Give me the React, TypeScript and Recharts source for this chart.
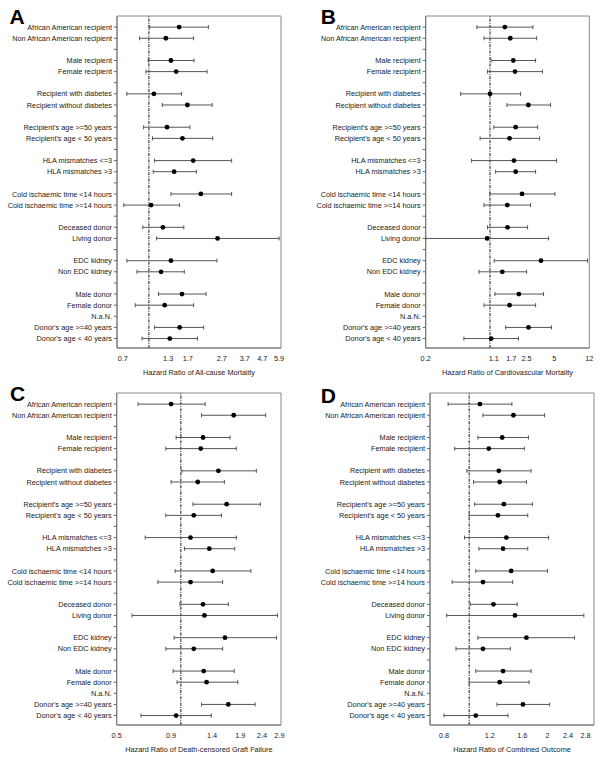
import { ScatterChart, Scatter, XAxis, YAxis, ErrorBar, ReferenceLine, ReferenceArea } from "recharts";

// row labels, "" = spacer row
const rowLabels = [
  "African American recipient",
  "Non African American recipient",
  "",
  "Male recipient",
  "Female recipient",
  "",
  "Recipient with diabetes",
  "Recipient without diabetes",
  "",
  "Recipient's age >=50 years",
  "Recipient's age < 50 years",
  "",
  "HLA mismatches <=3",
  "HLA mismatches >3",
  "",
  "Cold ischaemic time <14 hours",
  "Cold ischaemic time >=14 hours",
  "",
  "Deceased donor",
  "Living donor",
  "",
  "EDC kidney",
  "Non EDC kidney",
  "",
  "Male donor",
  "Female donor",
  "N.a.N.",
  "Donor's age >=40 years",
  "Donor's age < 40 years",
];

// one value per non-empty row (N.a.N. has no estimate)
const aPoint = [1.51, 1.26, 1.35, 1.45, 1.07, 1.69, 1.28, 1.58, 1.83, 1.41, 2.03, 1.03, 1.21, 2.55, 1.35, 1.18, 1.57, 1.24, null, 1.52, 1.33];
const aLow = [1.01, 0.88, 0.99, 0.96, 0.74, 1.2, 0.93, 1.05, 1.08, 1.06, 1.35, 0.71, 0.92, 1.11, 0.74, 0.85, 1.14, 0.83, null, 1.08, 0.91];
const aHigh = [2.25, 1.84, 1.85, 2.21, 1.56, 2.37, 1.75, 2.39, 3.09, 1.91, 3.09, 1.52, 1.61, 5.9, 2.53, 1.62, 2.18, 1.84, null, 2.11, 1.94];

const bPoint = [1.45, 1.66, 1.79, 1.87, 1.0, 2.61, 1.9, 1.63, 1.82, 1.9, 2.23, 1.54, 1.55, 0.93, 3.58, 1.36, 2.06, 1.63, null, 2.62, 1.03];
const bLow = [0.72, 0.86, 1.03, 0.94, 0.48, 1.53, 1.1, 0.78, 0.63, 1.15, 0.99, 0.86, 0.94, 0.2, 1.11, 0.76, 1.13, 0.86, null, 1.48, 0.52];
const bHigh = [2.93, 3.21, 3.13, 3.72, 2.15, 4.55, 3.29, 3.46, 5.29, 3.13, 5.08, 2.76, 2.56, 4.33, 11.47, 2.5, 3.82, 3.13, null, 4.66, 2.04];

const cPoint = [0.9, 1.77, 1.27, 1.24, 1.5, 1.2, 1.64, 1.15, 1.11, 1.36, 1.41, 1.11, 1.27, 1.29, 1.61, 1.15, 1.28, 1.32, null, 1.67, 0.95];
const cLow = [0.63, 1.25, 0.95, 0.85, 1.01, 0.9, 1.14, 0.85, 0.68, 1.04, 0.94, 0.78, 0.99, 0.59, 0.93, 0.85, 0.92, 0.96, null, 1.25, 0.65];
const cHigh = [1.3, 2.5, 1.7, 1.82, 2.26, 1.6, 2.36, 1.55, 1.82, 1.79, 2.13, 1.57, 1.67, 2.84, 2.81, 1.57, 1.78, 1.85, null, 2.23, 1.39];

const dPoint = [1.1, 1.48, 1.34, 1.19, 1.3, 1.31, 1.36, 1.29, 1.39, 1.35, 1.45, 1.13, 1.24, 1.5, 1.66, 1.13, 1.35, 1.31, null, 1.61, 1.06];
const dLow = [0.83, 1.13, 1.08, 0.88, 0.98, 1.04, 1.05, 1.0, 0.96, 1.09, 1.06, 0.86, 1.01, 0.82, 1.08, 0.89, 1.06, 1.0, null, 1.28, 0.8];
const dHigh = [1.46, 1.95, 1.69, 1.63, 1.73, 1.66, 1.75, 1.68, 2.02, 1.68, 2.0, 1.47, 1.53, 2.76, 2.54, 1.44, 1.73, 1.7, null, 2.04, 1.41];

const aTicks = [0.7, 1.3, 1.7, 2.7, 3.7, 4.7, 5.9];
const bTicks = [0.2, 1.1, 1.7, 2.5, 5, 12];
const cTicks = [0.5, 0.9, 1.4, 1.9, 2.4, 2.9];
const dTicks = [0.8, 1.2, 1.6, 2, 2.4, 2.8];

const rowTicks = rowLabels.map((_, i) => i);
const yDomain: [number, number] = [-1, 28.85];
const FONT = "'Liberation Sans', Arial, sans-serif";

function buildRows(pt: (number | null)[], lo: (number | null)[], hi: (number | null)[]) {
  const out: { row: number; pt: number; err: number[] }[] = [];
  let k = 0;
  rowLabels.forEach((lab, i) => {
    if (!lab) return;
    const p = pt[k], l = lo[k], h = hi[k];
    if (p != null && l != null && h != null) {
      out.push({ row: i, pt: p, err: [p - l, h - p] });
    }
    k++;
  });
  return out;
}

const Dot = (props: any) => <circle cx={props.cx} cy={props.cy} r={2.4} fill="#000" />;

// plain text so long labels stay on one line
const RowTick = (props: any) => (
  <text
    x={props.x}
    y={props.y}
    dy="0.35em"
    textAnchor="end"
    fontSize={7.3}
    fill="#222"
    fontFamily={FONT}
  >
    {rowLabels[props.payload.value] ?? ""}
  </text>
);

type PanelProps = {
  letter: string;
  left: number;
  top: number;
  yAxisWidth: number;
  rightMargin: number;
  letterTop: number;
  letterLeft: number;
  domain: [number, number];
  ticks: number[];
  title: string;
  pt: (number | null)[];
  lo: (number | null)[];
  hi: (number | null)[];
};

function Panel(p: PanelProps) {
  const data = buildRows(p.pt, p.lo, p.hi);
  return (
    <div style={{ position: "absolute", left: p.left, top: p.top, width: 302, height: 378 }}>
      <ScatterChart
        width={302}
        height={378}
        margin={{ top: 16, right: p.rightMargin, bottom: 0, left: 0 }}
      >
        <XAxis
          type="number"
          dataKey="pt"
          scale="log"
          domain={p.domain}
          allowDataOverflow
          ticks={p.ticks}
          interval={0}
          tickLine={false}
          axisLine={{ stroke: "#777" }}
          tick={{ fontSize: 7.3, fill: "#222", fontFamily: FONT }}
          tickFormatter={(v: number) => String(v)}
          height={30}
          label={{
            value: p.title,
            position: "insideBottom",
            offset: 3.5,
            fontSize: 7.3,
            fill: "#222",
            fontFamily: FONT,
          }}
        />
        <YAxis
          type="number"
          dataKey="row"
          domain={yDomain}
          allowDataOverflow
          reversed
          ticks={rowTicks}
          interval={0}
          width={p.yAxisWidth}
          tickSize={3}
          tickMargin={2}
          tickLine={{ stroke: "#666" }}
          axisLine={{ stroke: "#777" }}
          tick={RowTick}
        />
        <ReferenceArea
          x1={p.domain[0]}
          x2={p.domain[1]}
          y1={yDomain[0]}
          y2={yDomain[1]}
          fill="none"
          stroke="#888"
          strokeWidth={1}
        />
        <ReferenceLine x={1} stroke="#111" strokeDasharray="3 1.2 1 1.2" strokeWidth={1} />
        <Scatter data={data} shape={Dot} isAnimationActive={false}>
          <ErrorBar dataKey="err" direction="x" width={2} stroke="#555" strokeWidth={1} />
        </Scatter>
      </ScatterChart>
      <div
        style={{
          position: "absolute",
          left: p.letterLeft,
          top: p.letterTop,
          fontFamily: FONT,
          fontWeight: "bold",
          fontSize: 21,
          lineHeight: "21px",
          color: "#000",
        }}
      >
        {p.letter}
      </div>
    </div>
  );
}

export default function App() {
  return (
    <div
      style={{
        position: "absolute",
        left: 0,
        top: 0,
        width: 602,
        height: 759,
        background: "#fff",
        fontFamily: FONT,
      }}
    >
      <Panel
        letter="A"
        left={0}
        top={0}
        yAxisWidth={117}
        rightMargin={21}
        letterLeft={9.5}
        letterTop={5.5}
        domain={[0.647, 6.06]}
        ticks={aTicks}
        title="Hazard Ratio of All-cause Mortality"
        pt={aPoint}
        lo={aLow}
        hi={aHigh}
      />
      <Panel
        letter="B"
        left={300}
        top={0}
        yAxisWidth={125.7}
        rightMargin={12.7}
        letterLeft={20.7}
        letterTop={6}
        domain={[0.2, 12]}
        ticks={bTicks}
        title="Hazard Ratio of Cardiovascular Mortality"
        pt={bPoint}
        lo={bLow}
        hi={bHigh}
      />
      <Panel
        letter="C"
        left={0}
        top={377.3}
        yAxisWidth={116.7}
        rightMargin={21}
        letterLeft={10}
        letterTop={6}
        domain={[0.5, 2.95]}
        ticks={cTicks}
        title="Hazard Ratio of Death-censored Graft Failure"
        pt={cPoint}
        lo={cLow}
        hi={cHigh}
      />
      <Panel
        letter="D"
        left={300}
        top={377.3}
        yAxisWidth={130}
        rightMargin={8}
        letterLeft={20.7}
        letterTop={7.5}
        domain={[0.707, 3.02]}
        ticks={dTicks}
        title="Hazard Ratio of Combined Outcome"
        pt={dPoint}
        lo={dLow}
        hi={dHigh}
      />
    </div>
  );
}
